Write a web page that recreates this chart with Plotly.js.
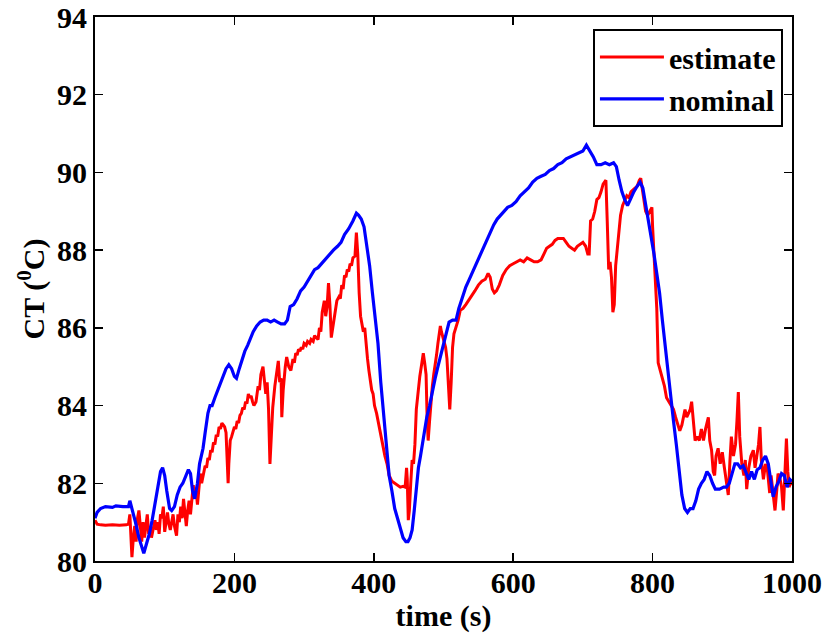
<!DOCTYPE html>
<html>
<head>
<meta charset="utf-8">
<script src="https://cdn.plot.ly/plotly-3.0.1.min.js"></script>
<style>html,body{margin:0;padding:0;background:#fff;}#chart{width:825px;height:635px;}</style>
</head>
<body>
<div id="chart"></div>
<script>
// nominal (blue)
var nominalTime = [0,3,8,15,25,30,40,48,50,53,58,63,67,70,74,78,82,86,90,94,97,100,103,107,110,114,118,122,126,130,134,137,140,143,147,150,155,158,162,165,168,172,176,180,184,188,192,196,200,203,207,211,215,219,223,227,232,237,242,247,252,257,262,267,272,276,280,285,290,295,300,305,310,315,320,325,330,336,342,348,353,358,364,370,375,378,382,386,390,394,398,402,406,410,414,418,422,426,430,434,438,442,446,449,452,455,458,461,464,467,471,476,480,484,488,492,496,500,504,508,513,518,522,527,532,537,542,547,552,557,562,567,572,577,582,587,592,598,604,610,616,622,628,634,640,646,652,658,664,670,676,682,688,694,700,705,710,715,720,726,732,738,744,748,752,756,760,764,768,773,778,782,786,790,794,798,802,806,810,814,818,822,826,830,834,838,842,846,850,854,858,862,866,870,874,878,882,886,890,896,902,906,910,914,918,922,926,930,934,938,942,946,950,954,958,962,966,970,973,977,981,985,989,993,997,1000];
var nominalCT = [81.1,81.25,81.35,81.4,81.38,81.42,81.4,81.4,81.55,81.35,81.0,80.6,80.35,80.2,80.45,80.7,81.05,81.5,81.9,82.3,82.4,82.2,81.8,81.35,81.3,81.4,81.7,81.9,82.0,82.2,82.35,82.25,81.8,81.6,82.0,82.5,82.9,83.3,83.8,84.0,84.0,84.2,84.4,84.6,84.75,84.95,85.05,84.95,84.75,84.7,84.95,85.2,85.4,85.55,85.75,85.9,86.05,86.15,86.2,86.2,86.15,86.2,86.15,86.1,86.1,86.2,86.55,86.6,86.75,86.95,87.05,87.2,87.35,87.5,87.55,87.65,87.75,87.9,88.0,88.1,88.2,88.4,88.55,88.75,88.95,88.9,88.8,88.6,88.1,87.6,86.9,86.2,85.6,84.6,83.8,83.0,82.2,81.8,81.35,81.1,80.85,80.6,80.5,80.5,80.6,80.8,81.3,81.9,82.4,82.7,83.2,83.7,84.0,84.4,84.7,85.0,85.3,85.6,85.9,86.15,86.2,86.2,86.5,86.8,87.05,87.25,87.45,87.65,87.85,88.05,88.25,88.45,88.65,88.8,88.9,89.0,89.1,89.15,89.25,89.4,89.5,89.6,89.75,89.85,89.9,89.95,90.05,90.1,90.2,90.25,90.35,90.4,90.45,90.5,90.55,90.7,90.55,90.4,90.2,90.2,90.25,90.2,90.25,90.15,89.8,89.5,89.3,89.15,89.3,89.5,89.65,89.75,89.6,89.2,88.8,88.4,87.9,87.4,86.9,86.2,85.5,84.8,84.2,83.6,83.0,82.3,81.7,81.35,81.25,81.35,81.35,81.55,81.85,82.0,82.1,82.3,82.2,82.0,81.85,81.85,81.9,81.9,82.0,82.25,82.5,82.5,82.4,82.45,82.25,82.1,82.3,82.1,82.35,82.4,82.6,82.7,82.5,82.0,81.65,81.9,82.05,82.25,82.2,81.9,82.1,82.05];

// estimate (red)
var estimateTime = [0,3,8,15,25,35,45,48,50,51,53,55,57,59,61,63,65,67,69,71,73,75,77,79,81,84,86,88,90,92,94,96,98,100,102,104,106,108,110,112,114,117,119,121,123,125,127,129,131,133,135,137,139,141,143,145,147,149,151,153,155,158,160,162,164,166,168,170,172,174,176,178,180,182,184,186,188,190,191,192,194,196,198,200,202,204,206,208,210,212,214,216,218,220,222,224,226,228,231,234,236,238,241,243,245,247,249,251,253,255,258,261,263,265,267,268,270,273,275,278,281,284,286,288,290,292,294,296,298,300,303,305,308,310,313,315,318,320,322,324,326,329,331,333,335,337,339,341,344,347,350,352,354,356,358,360,362,364,366,368,370,373,375,377,379,381,383,385,387,389,391,393,395,397,399,401,404,407,410,413,416,419,422,426,430,434,438,442,445,447,448,449.5,451,453,455,457,459,461,463,466,469,471,473,475,476.5,478,480,482,484,486,488,490,492,494,495.5,497,499,501,503,505,507,509,511,513,515,518,521,524,528,532,536,540,545,550,555,560,564,567,570,573,576,580,585,590,595,600,605,610,615,620,625,630,635,640,644,648,652,656,660,664,668,672,676,680,684,688,692,696,700,704,707,709,711,714,717,720,723,726,729,731,733,735,737,739,741,743,745,747,749,751,754,757,760,763,766,769,772,775,778,781,783,785,787,790,793,796,799,800,802,804,806,808,811,814,817,820,823,826,830,833,836,839,842,844,846.5,849,852,854,856,858,861,864,867,870,873,876,880,882,884.6,887,889,891,894,897,900,903,906,908.6,911,913,916,919,921,923,925,928,931,933,935,938,941,944.5,947,950,952,954,956,959,962,965,968,970,972,975.6,978,980,983,985,987.5,989,990.5,992,994,996,998,1000];
var estimateCT = [81.05,80.95,80.93,80.92,80.93,80.92,80.93,80.95,81.2,80.7,80.1,80.6,80.9,80.5,81.1,81.3,80.8,80.5,81.0,80.6,80.9,81.2,80.7,80.9,80.6,80.9,81.05,80.8,81.0,80.7,81.2,81.1,81.4,80.75,81.0,81.25,80.95,80.8,81.0,81.2,80.9,80.65,81.2,81.0,81.4,81.1,81.6,81.3,80.9,81.3,81.55,81.2,81.5,81.95,81.6,81.8,81.45,81.9,82.25,82.0,82.2,82.45,82.4,82.65,82.6,82.85,82.8,83.05,83.0,83.25,83.2,83.45,83.4,83.55,83.5,83.45,83.3,82.3,82.0,82.5,83.1,83.2,83.3,83.45,83.4,83.6,83.55,83.75,83.8,83.95,83.9,84.1,84.05,84.3,84.2,84.25,84.1,84.0,84.1,84.5,84.4,84.8,85.0,84.6,84.3,84.6,83.9,82.5,83.2,83.95,84.5,84.9,85.15,84.6,84.7,83.7,84.4,85.0,85.25,85.0,84.9,85.2,85.1,85.35,85.3,85.45,85.4,85.5,85.45,85.6,85.55,85.65,85.6,85.7,85.65,85.8,85.75,85.7,86.0,85.9,86.4,86.7,86.3,86.55,87.15,86.6,85.75,86.0,86.4,86.7,86.8,86.75,87.1,87.0,87.35,87.3,87.5,87.45,87.65,87.6,87.8,87.85,88.45,87.9,86.9,86.3,86.1,85.9,86.0,85.5,85.2,84.9,84.6,84.4,84.3,84.0,83.8,83.5,83.2,82.95,82.7,82.5,82.2,82.05,82.0,81.95,81.9,81.92,81.9,82.4,82.1,81.05,81.3,82.0,82.6,82.5,83.0,83.9,84.3,84.75,85.1,85.35,85.1,84.8,83.7,83.1,83.6,84.2,84.5,84.8,85.0,85.3,85.6,85.85,86.05,85.9,85.75,85.6,85.5,85.2,84.5,83.9,84.6,85.5,85.85,86.0,86.2,86.45,86.5,86.6,86.7,86.8,86.95,87.1,87.2,87.25,87.4,87.3,87.0,86.9,86.95,87.1,87.35,87.5,87.6,87.65,87.7,87.75,87.7,87.8,87.75,87.7,87.7,87.75,87.9,88.05,88.1,88.15,88.25,88.3,88.3,88.3,88.2,88.1,88.05,88.0,88.1,88.15,88.2,88.1,87.9,87.9,88.75,88.8,89.0,89.3,89.35,89.5,89.7,89.75,89.8,88.7,87.5,87.7,87.3,86.4,86.6,87.6,88.0,88.5,88.9,89.15,89.3,89.4,89.35,89.5,89.55,89.6,89.65,89.8,89.85,89.6,89.3,89.0,88.9,89.0,89.1,88.6,87.8,87.4,86.5,85.1,84.9,84.75,84.5,84.2,84.1,84.0,83.9,83.7,83.5,83.35,83.5,83.7,83.9,83.7,83.8,83.9,84.1,83.7,83.1,83.2,83.1,83.4,83.1,83.4,83.7,83.1,82.85,82.3,82.2,82.7,82.9,82.5,82.8,82.4,82.0,81.7,82.6,83.2,82.7,83.0,83.6,84.35,83.2,82.5,82.2,82.6,81.85,82.4,82.7,82.85,82.4,82.7,83.0,83.45,82.6,82.1,82.5,82.3,81.75,82.2,81.9,81.3,81.8,82.25,82.1,81.9,81.3,81.8,82.6,83.15,82.3,81.9,82.1,81.95];

var xTicks = [0,200,400,600,800,1000];
var yTicks = [80,82,84,86,88,90,92,94];

var fontFam = 'Liberation Serif';
var boldFont = {family: fontFam, size: 30, color: 'black', weight: 'bold'};

var traces = [
  {x: estimateTime, y: estimateCT, type: 'scatter', mode: 'lines', name: 'estimate',
   line: {color: '#ff0000', width: 3}},
  {x: nominalTime, y: nominalCT, type: 'scatter', mode: 'lines', name: 'nominal',
   line: {color: '#0000ff', width: 3.2}}
];

var axisCommon = {
  showline: true, linecolor: 'black', linewidth: 2, mirror: 'ticks',
  ticks: 'inside', ticklen: 8, tickwidth: 1.5, tickcolor: 'black',
  showgrid: false, zeroline: false,
  tickfont: boldFont
};

var layout = {
  width: 825, height: 635,
  margin: {l: 95, r: 33, t: 17, b: 74},
  paper_bgcolor: 'white', plot_bgcolor: 'white',
  font: boldFont,
  showlegend: true,
  legend: {x: 0.987, xanchor: 'right', y: 0.978, yanchor: 'top',
           bgcolor: 'white', bordercolor: 'black', borderwidth: 2,
           font: boldFont, itemwidth: 64, tracegroupgap: 0},
  xaxis: Object.assign({}, axisCommon, {
    range: [0, 1000], tickvals: xTicks, ticktext: xTicks.map(String),
    ticklabelstandoff: -6,
    title: {text: 'time (s)', font: boldFont, standoff: 0}
  }),
  yaxis: Object.assign({}, axisCommon, {
    range: [80, 94], tickvals: yTicks, ticktext: yTicks.map(String),
    title: {text: 'CT (<sup>0</sup>C)', font: boldFont, standoff: 4}
  })
};

Plotly.newPlot('chart', traces, layout, {displayModeBar: false, staticPlot: true});
</script>
</body>
</html>
